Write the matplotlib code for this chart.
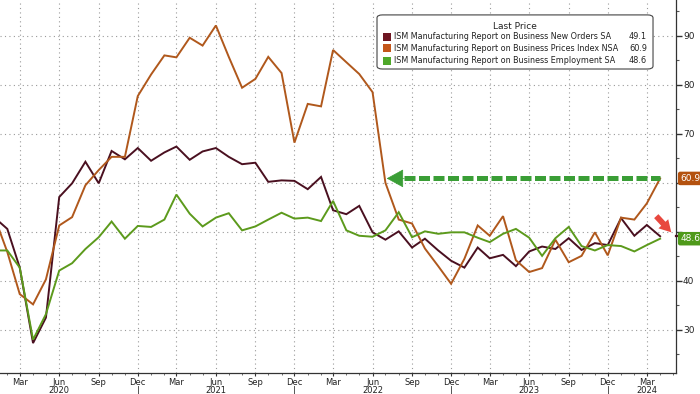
"""ISM Manufacturing: new orders, prices and employment, 2020-2024."""

import matplotlib

matplotlib.use("Agg")
import matplotlib.dates as mdates
import matplotlib.pyplot as plt
import matplotlib.transforms as mtransforms
import pandas as pd
from matplotlib.patches import FancyBboxPatch, Rectangle
from matplotlib.ticker import FuncFormatter, MultipleLocator

plt.rcParams["font.family"] = ["DejaVu Sans"]

# monthly readings, Jan 2020 .. Apr 2024
months = pd.date_range("2020-01-01", "2024-04-01", freq="MS")

new_orders = [
    53.0, 50.6, 42.7, 27.3, 32.5, 57.1, 59.9, 64.3, 59.9, 66.5, 64.8, 67.1,
    64.5, 66.2, 67.4, 64.7, 66.4, 67.1, 65.3, 63.8, 64.1, 60.2, 60.5, 60.4,
    58.7, 61.2, 54.4, 53.6, 55.3, 49.9, 48.4, 50.1, 46.8, 48.6, 46.2, 44.1,
    42.7, 46.8, 44.6, 45.3, 43.0, 46.0, 47.0, 46.5, 48.7, 46.3, 47.7, 47.3,
    52.8, 49.2, 51.4, 49.1,
]
prices = [
    53.3, 45.9, 37.3, 35.2, 40.3, 51.3, 53.0, 59.5, 62.6, 65.3, 65.3, 77.7,
    82.1, 86.0, 85.6, 89.6, 88.0, 92.1, 85.7, 79.4, 81.2, 85.7, 82.4, 68.2,
    76.1, 75.6, 87.1, 84.6, 82.2, 78.5, 60.0, 52.5, 51.7, 46.6, 43.0, 39.4,
    44.5, 51.3, 49.2, 53.2, 44.2, 41.8, 42.6, 48.4, 43.8, 45.1, 49.9, 45.2,
    52.9, 52.5, 55.8, 60.9,
]
employment = [
    46.2, 46.2, 42.7, 28.0, 33.2, 42.1, 43.6, 46.5, 48.9, 52.1, 48.6, 51.2,
    51.0, 52.5, 57.6, 53.7, 51.1, 52.9, 53.8, 50.3, 51.1, 52.5, 53.9, 52.7,
    52.9, 52.2, 56.3, 50.3, 49.2, 49.0, 50.3, 54.0, 48.9, 50.1, 49.6, 49.9,
    49.9, 48.8, 47.9, 49.6, 50.6, 48.8, 45.1, 48.7, 51.0, 47.1, 46.2, 47.3,
    47.1, 46.0, 47.3, 48.6,
]

series_names = [
    "ISM Manufacturing Report on Business New Orders SA",
    "ISM Manufacturing Report on Business Prices Index NSA",
    "ISM Manufacturing Report on Business Employment SA",
]
line_colors = ["#4a1020", "#b0581c", "#5c9a1c"]
swatch_colors = ["#6e1622", "#c4561a", "#4fa82a"]
tag_colors = {"prices": "#b4520f", "employment": "#4f9a1a"}
year_labels = ["2020", "2021", "2022", "2023", "2024"]
year_label_dates = pd.to_datetime(
    ["2020-06-01", "2021-06-01", "2022-06-01", "2023-06-01", "2024-03-01"]
)
year_breaks = pd.to_datetime(["2020-12-01", "2021-12-01", "2022-12-01", "2023-12-01"])
hidden_ticks = [50, 60]  # covered by the last-price tags

fig = plt.figure(figsize=(7.0, 3.94), dpi=100)
ax = fig.add_axes([0.0, 21 / 394, 676 / 700, 373 / 394])

all_series = [new_orders, prices, employment]
for vals, col in zip(all_series, line_colors):
    ax.plot(months, vals, color=col, lw=1.4, solid_joinstyle="miter", zorder=3)

ax.set_xlim(pd.Timestamp("2020-01-15"), pd.Timestamp("2024-05-08"))
ax.set_ylim(21.2, 97.3)

# axes styling
for side in ("left", "top"):
    ax.spines[side].set_visible(False)
for side in ("right", "bottom"):
    ax.spines[side].set_color("#333333")
    ax.spines[side].set_linewidth(0.9)

ax.yaxis.tick_right()
ax.yaxis.set_major_locator(MultipleLocator(10))
ax.yaxis.set_minor_locator(MultipleLocator(5))
ax.yaxis.set_major_formatter(
    FuncFormatter(lambda v, _: "" if round(v) in hidden_ticks else f"{v:.0f}")
)
ax.tick_params(axis="y", which="major", direction="out", length=4, width=1.0,
               pad=1, labelsize=6.5, colors="#333333", labelcolor="#222222")
ax.tick_params(axis="y", which="minor", direction="out", length=2, width=0.8,
               colors="#555555")

ax.xaxis.set_major_locator(mdates.MonthLocator(bymonth=[3, 6, 9, 12]))
ax.xaxis.set_minor_locator(mdates.MonthLocator())
ax.xaxis.set_major_formatter(mdates.DateFormatter("%b"))
ax.tick_params(axis="x", which="major", direction="out", length=2.5, width=0.8,
               pad=1, labelsize=6, colors="#333333", labelcolor="#222222")
ax.tick_params(axis="x", which="minor", direction="out", length=1.5, width=0.6,
               colors="#555555")

ax.grid(True, which="major", color="#9a9a9a", linestyle=(0, (1, 3)), lw=0.8)

# year labels and separators under the month ticks
xblend = mtransforms.blended_transform_factory(ax.transData, ax.transAxes)
for d, lab in zip(year_label_dates, year_labels):
    ax.text(d, -0.048, lab, transform=xblend, ha="center", va="center",
            fontsize=6, color="#222222", clip_on=False)
for d in year_breaks:
    ax.plot([d, d], [-0.036, -0.07], transform=xblend, color="#555555",
            lw=0.7, clip_on=False)

# last price tags on the right axis (new orders tag sits under the employment one)
yblend = mtransforms.blended_transform_factory(ax.transAxes, ax.transData)
ax.plot([1.0, 1.04], [new_orders[-1], new_orders[-1]], transform=yblend,
        color=line_colors[0], lw=1.6, clip_on=False, zorder=8)
for key, vals in (("prices", prices), ("employment", employment)):
    ax.annotate(f"{vals[-1]:.1f}", xy=(1.0, vals[-1]), xycoords=yblend,
                xytext=(3, 0), textcoords="offset points", ha="left",
                va="center", fontsize=6.5, color="white", annotation_clip=False,
                bbox=dict(boxstyle="round,pad=0.25", fc=tag_colors[key], ec="none"),
                zorder=9)

# green dashed arrow back to the mid-2022 level
arrow_green = "#3a9e36"
ax.plot([pd.Timestamp("2022-08-13"), months[-1]], [prices[-1], prices[-1]],
        color=arrow_green, lw=3.6, dashes=(2.2, 0.7), solid_capstyle="butt",
        zorder=4)
ax.annotate("", xy=(pd.Timestamp("2022-07-04"), prices[-1]),
            xytext=(pd.Timestamp("2022-08-14"), prices[-1]),
            arrowprops=dict(arrowstyle="-|>,head_length=0.55,head_width=0.3",
                            mutation_scale=20, color=arrow_green, lw=0.5,
                            shrinkA=0, shrinkB=0), zorder=4)

# red arrow pointing at the employment tag
ax.annotate("", xy=(pd.Timestamp("2024-04-27"), 49.9),
            xytext=(pd.Timestamp("2024-03-23"), 53.2),
            arrowprops=dict(arrowstyle="simple,head_length=0.7,head_width=0.8,tail_width=0.35",
                            mutation_scale=12, fc="#e8483e", ec="none",
                            shrinkA=0, shrinkB=0), annotation_clip=False, zorder=5)

# legend box
box = FancyBboxPatch((0.5577, 0.815), 0.4083, 0.145, transform=ax.transAxes,
                     boxstyle="round,pad=0,rounding_size=0.008", fc="white",
                     ec="#444444", lw=0.8, zorder=6)
ax.add_patch(box)
ax.text(0.7618, 0.9284, "Last Price", transform=ax.transAxes, ha="center",
        va="center", fontsize=6.5, color="#222222", zorder=7)
row_y = [0.9016, 0.8705, 0.8373]
for y, name, vals, col in zip(row_y, series_names, all_series, swatch_colors):
    ax.add_patch(Rectangle((0.5666, y - 0.0107), 0.0118, 0.0214,
                           transform=ax.transAxes, fc=col, ec="none", zorder=7))
    ax.text(0.5828, y, name, transform=ax.transAxes, ha="left", va="center",
            fontsize=5.75, color="#222222", zorder=7)
    ax.text(0.957, y, f"{vals[-1]:.1f}", transform=ax.transAxes, ha="right",
            va="center", fontsize=5.9, color="#222222", zorder=7)

fig.savefig("out.png", dpi=100)
plt.close(fig)
